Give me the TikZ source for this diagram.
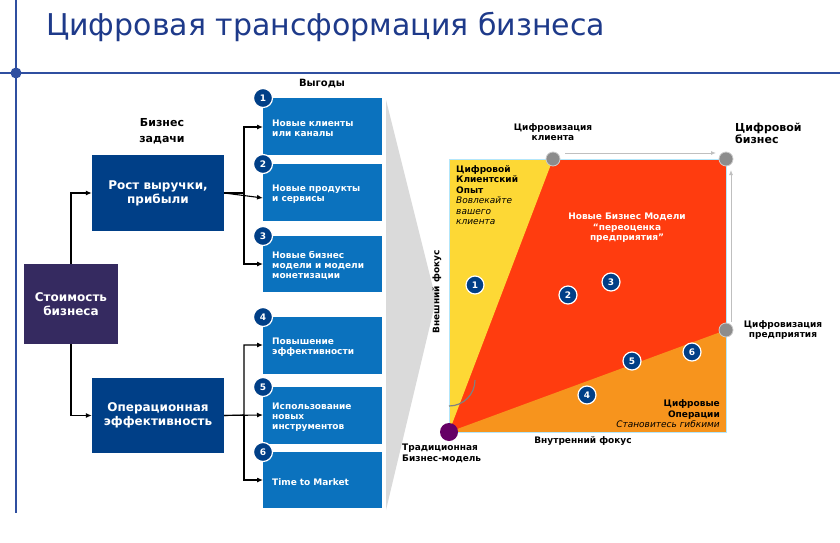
\documentclass[tikz,border=0pt]{standalone}
\usepackage{fontspec}
\setmainfont{DejaVu Sans}
\usetikzlibrary{arrows.meta}
\definecolor{tblue}{HTML}{1E3A8A}
\definecolor{lblue}{HTML}{2F4FA0}
\definecolor{dblue}{HTML}{003F87}
\definecolor{bblue}{HTML}{0B72BE}
\definecolor{dpurp}{HTML}{352A60}
\definecolor{sqred}{HTML}{FF3C0F}
\definecolor{sqyel}{HTML}{FDD835}
\definecolor{sqorg}{HTML}{F7941D}
\definecolor{funnel}{HTML}{DADADA}
\tikzset{
 mainbox/.style={fill=dblue,text=white,font=\bfseries\fontsize{12}{14}\selectfont,align=center,inner sep=0pt},
 benbox/.style={fill=bblue,text=white,font=\bfseries\fontsize{9}{10}\selectfont,align=left,inner sep=0pt,text width=108pt},
 numc/.style={circle,fill=dblue,draw=white,line width=1.2pt,text=white,font=\bfseries\fontsize{9}{9}\selectfont,minimum size=19pt,inner sep=0pt},
 gdot/.style={circle,fill=gray!90,draw=gray!40,line width=0.8pt,minimum size=14pt,inner sep=0pt},
 conn/.style={line width=1.1pt,-{Latex[length=6pt,width=5pt]}},
 lbl/.style={font=\bfseries\fontsize{9}{10.5}\selectfont,align=center,inner sep=0pt},
 garr/.style={draw=gray!50,line width=1pt,-{Latex[length=5pt,width=4pt]}},
}
\begin{document}
\begin{tikzpicture}[x=1pt,y=-1pt]
\useasboundingbox (0,0) rectangle (840,543);
\fill[white] (0,0) rectangle (840,543);
% title and frame
\node[anchor=west,text=tblue,font=\fontsize{30}{34}\selectfont,inner sep=0pt] (title) at (46,27) {Цифровая трансформация бизнеса};
\draw[lblue,line width=1.6pt] (0,73) -- (840,73);
\draw[lblue,line width=1.6pt] (16,0) -- (16,513);
\fill[lblue] (16,73) circle (5.5);
% left boxes
\node[mainbox,fill=dpurp,minimum width=94pt,minimum height=80pt] (sv) at (71,304) {Стоимость\\бизнеса};
\node[mainbox,minimum width=132pt,minimum height=76pt] (rost) at (158,193) {Рост выручки,\\прибыли};
\node[mainbox,minimum width=132pt,minimum height=75pt] (oper) at (158,415.5) {Операционная\\эффективность};
\node[lbl,font=\bfseries\fontsize{11}{16}\selectfont] (bz) at (162,131) {Бизнес\\задачи};
\node[lbl,font=\bfseries\fontsize{10}{12}\selectfont] (vy) at (322,84) {Выгоды};
% benefit boxes
\foreach \n/\ya/\yb/\t in {1/98/155/{Новые клиенты\\или каналы},2/164/221/{Новые продукты\\и сервисы},3/236/292/{Новые бизнес\\модели и модели\\монетизации},4/317/374/{Повышение\\эффективности},5/387/444/{Использование\\новых\\инструментов},6/452/508/{Time to Market}}{
 \fill[bblue] (263,\ya) rectangle (382,\yb);
 \node[benbox,anchor=west] (b\n) at (272,{(\ya+\yb)/2+2}) {\t};
 \coordinate (e\n) at (263,{(\ya+\yb)/2});
 \node[numc] (n\n) at (263,\ya) {\n};
}
\coordinate (e1) at (263,127);
\coordinate (e2) at (263,198);
\coordinate (e3) at (263,264);
\coordinate (e4) at (263,345);
\coordinate (e5) at (263,415);
\coordinate (e6) at (263,480);
% connectors
\draw[conn] (sv.north) |- (rost.west);
\draw[conn] (sv.south) |- (oper.west);
\draw[conn] (rost.east) -- (244,193) |- (e1);
\draw[conn] (rost.east) -- (e2);
\draw[conn] (244,193) |- (e3);
\draw[conn] (oper.east) -- (244,415) |- (e4);
\draw[conn] (oper.east) -- (e5);
\draw[conn] (244,415) |- (e6);
% funnel
\fill[funnel] (386,100) -- (436,300) -- (386,510) -- cycle;
% square
\fill[sqred] (449,159) rectangle (726,432);
\fill[sqyel] (449,159) -- (553,159) -- (449,432) -- cycle;
\fill[sqorg] (449,432) -- (726,330) -- (726,432) -- cycle;
\draw[cyan!30,line width=0.8pt] (449,159) rectangle (726,432);
\draw[gray,line width=1.2pt] (449,406) arc[start angle=90,end angle=0,radius=26];
\draw[garr] (565,153) -- (716,153);
\draw[garr] (731,322) -- (731,170);
\node[gdot] (dc) at (553,159) {};
\node[gdot] (db) at (726,159) {};
\node[gdot] (dp) at (726,330) {};
\node[circle,fill=violet!80!black,minimum size=18pt,inner sep=0pt] (tr) at (449,432) {};
% labels
\node[lbl] (lc) at (553,132) {Цифровизация\\клиента};
\node[lbl,anchor=west,align=left,font=\bfseries\fontsize{11}{12}\selectfont] (lb) at (735,133) {Цифровой\\бизнес};
\node[lbl] (lp) at (783,330) {Цифровизация\\предприятия};
\node[lbl,align=left,anchor=north west] (lt) at (402,444) {Традиционная\\Бизнес-модель};
\node[lbl] (lv) at (583,441) {Внутренний фокус};
\node[lbl,rotate=90] (lext) at (437,292) {Внешний фокус};
\node[anchor=north west,align=left,inner sep=0pt,font=\fontsize{9}{10.5}\selectfont] (ty) at (456,165) {\textbf{Цифровой}\\\textbf{Клиентский}\\\textbf{Опыт}\\\textit{Вовлекайте}\\\textit{вашего}\\\textit{клиента}};
\node[lbl,text=white] (tn) at (627,228) {Новые Бизнес Модели\\“переоценка\\предприятия”};
\node[anchor=south east,align=right,inner sep=0pt,font=\fontsize{9}{10.5}\selectfont] (to) at (720,428) {\textbf{Цифровые}\\\textbf{Операции}\\\textit{Становитесь гибкими}};
\foreach \n/\x/\y in {1/475/285,2/568/295,3/611/282,4/587/395,5/632/361,6/692/352}{
 \node[numc,minimum size=18pt] (q\n) at (\x,\y) {\n};
}
\end{tikzpicture}
\end{document}
